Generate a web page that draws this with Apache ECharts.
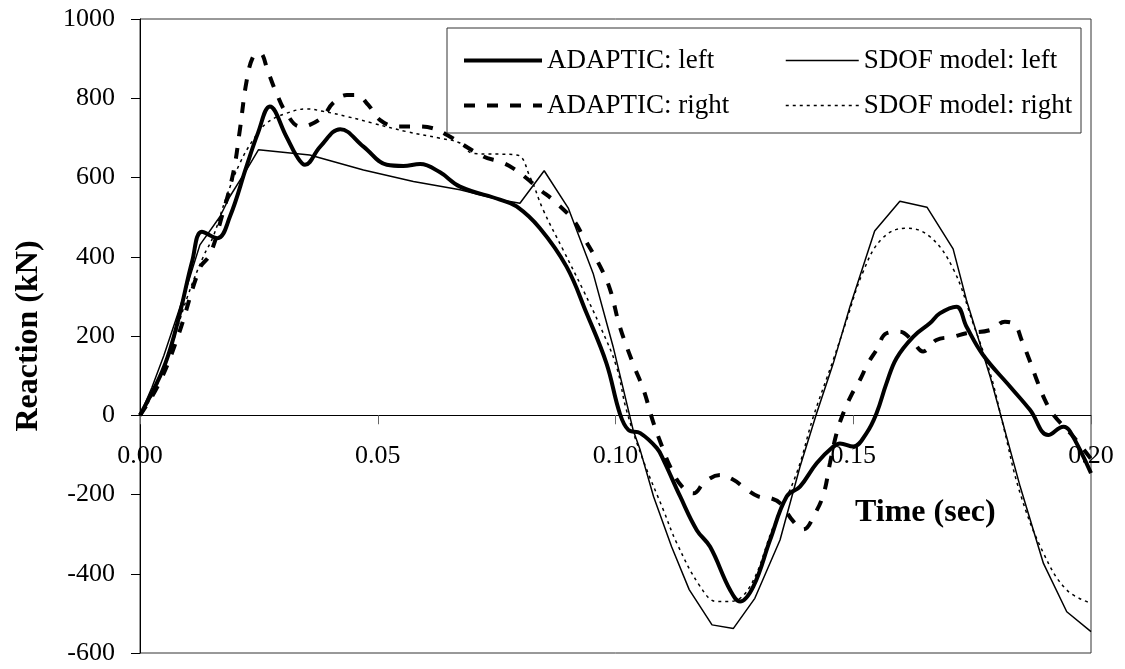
<!DOCTYPE html>
<html>
<head>
<meta charset="utf-8">
<script src="https://cdn.jsdelivr.net/npm/echarts@6/dist/echarts.min.js"></script>
<style>
	html,body{margin:0;padding:0;background:#fff;}
	#g_canvas{width:1125px;height:669px;}
</style>
</head>
<body>
<div id="g_canvas"></div>
<script>
// time (sec) / reaction (kN)
var adaptic_left_t = [0, 0.0042, 0.0063, 0.0084, 0.011, 0.013, 0.0163, 0.0189, 0.0224, 0.0248, 0.0273, 0.0308, 0.033, 0.0347, 0.0379, 0.0421, 0.047, 0.0519, 0.0554, 0.0589, 0.0631, 0.0673, 0.0757, 0.0792, 0.0841, 0.0897, 0.0939, 0.0981, 0.1009, 0.1027, 0.1052, 0.1087, 0.1101, 0.1136, 0.1171, 0.1199, 0.1241, 0.1262, 0.129, 0.1325, 0.136, 0.1388, 0.1423, 0.1458, 0.1472, 0.15, 0.1528, 0.1549, 0.157, 0.1591, 0.1626, 0.1661, 0.1682, 0.1717, 0.1738, 0.1773, 0.183, 0.1872, 0.191, 0.1942, 0.1956, 0.2];
var adaptic_left_v = [0, 98, 165, 258, 390, 463, 447, 501, 628, 712, 779, 703, 653, 632, 678, 722, 678, 632, 629, 634, 613, 577, 544, 527, 472, 375, 258, 131, 5, -37, -45, -83, -113, -205, -290, -332, -441, -470, -432, -315, -205, -180, -121, -79, -71, -79, -45, 5, 81, 144, 198, 232, 257, 274, 224, 152, 72, 13, -50, -29, -41, -146];

var adaptic_right_t = [0, 0.004, 0.008, 0.0126, 0.0147, 0.0172, 0.0196, 0.021, 0.0224, 0.0238, 0.0252, 0.027, 0.0287, 0.0308, 0.0336, 0.0357, 0.0385, 0.0406, 0.0435, 0.0456, 0.048, 0.0505, 0.054, 0.0582, 0.0617, 0.0645, 0.0722, 0.0757, 0.0785, 0.0813, 0.0841, 0.0869, 0.0911, 0.0932, 0.0968, 0.0989, 0.1009, 0.1038, 0.1059, 0.108, 0.1098, 0.1115, 0.114, 0.1164, 0.1188, 0.122, 0.1248, 0.1272, 0.13, 0.1328, 0.1346, 0.1374, 0.1395, 0.142, 0.1438, 0.1451, 0.1465, 0.1479, 0.1496, 0.1514, 0.1531, 0.1549, 0.157, 0.1598, 0.1623, 0.1647, 0.1675, 0.171, 0.1738, 0.1788, 0.1819, 0.184, 0.1854, 0.1872, 0.1886, 0.1903, 0.1921, 0.196, 0.2];
var adaptic_right_v = [0, 80, 200, 372, 405, 501, 611, 720, 842, 905, 914, 864, 813, 762, 729, 733, 754, 788, 808, 808, 783, 745, 729, 729, 724, 708, 653, 640, 623, 598, 569, 543, 493, 451, 375, 316, 224, 127, 64, -20, -79, -130, -180, -197, -168, -151, -163, -184, -205, -210, -222, -268, -288, -247, -197, -121, -45, 5, 51, 89, 131, 165, 207, 211, 190, 161, 190, 198, 207, 215, 236, 228, 190, 135, 89, 39, 1, -50, -110];

var sdof_left_t = [0, 0.0025, 0.005, 0.0075, 0.01, 0.0126, 0.0168, 0.0189, 0.0224, 0.0249, 0.0357, 0.047, 0.0575, 0.0673, 0.0757, 0.0799, 0.085, 0.0901, 0.0953, 0.0995, 0.1037, 0.1052, 0.108, 0.1118, 0.1155, 0.1203, 0.1248, 0.1293, 0.1346, 0.1388, 0.1423, 0.1458, 0.1493, 0.1545, 0.1598, 0.1655, 0.171, 0.1738, 0.1788, 0.1809, 0.1851, 0.19, 0.1949, 0.2];
var sdof_left_v = [0, 70, 150, 240, 330, 430, 501, 552, 619, 670, 657, 619, 590, 569, 544, 535, 617, 522, 358, 173, -37, -88, -205, -332, -440, -529, -538, -462, -315, -130, 5, 131, 274, 465, 540, 525, 420, 291, 97, 5, -180, -374, -496, -546];

var sdof_right_t = [0, 0.003, 0.0065, 0.01, 0.0133, 0.0154, 0.0182, 0.021, 0.0238, 0.0266, 0.0308, 0.0351, 0.0385, 0.0435, 0.049, 0.056, 0.0631, 0.0673, 0.07, 0.0792, 0.082, 0.0848, 0.089, 0.0932, 0.0968, 0.1002, 0.1023, 0.1058, 0.1101, 0.1129, 0.1178, 0.1213, 0.1241, 0.1283, 0.1332, 0.1381, 0.1416, 0.1458, 0.1486, 0.152, 0.156, 0.161, 0.166, 0.171, 0.1752, 0.1788, 0.1816, 0.1851, 0.19, 0.1949, 0.2];
var sdof_right_v = [0, 60, 170, 300, 400, 451, 552, 636, 695, 737, 762, 773, 767, 754, 737, 716, 699, 687, 661, 657, 602, 518, 417, 316, 224, 123, 13, -113, -240, -323, -432, -470, -470, -432, -281, -146, -4, 140, 240, 360, 445, 472, 452, 370, 232, 106, -29, -197, -348, -441, -474];

var y_ticks = [-600, -400, -200, 0, 200, 400, 600, 800, 1000];

function pairs(t, v){
	var arr = [];
	for(let i=0;i<t.length;i++){
		arr.push([t[i], v[i]]);
	}
	return arr;
}

var font = '"Liberation Serif", "Times New Roman", serif';
var legend_text = { fontFamily: font, fontSize: 27, color: '#000' };

// plot box
var g_top = 19, g_bottom = 16, g_h = 669 - g_top - g_bottom;
var y_min = y_ticks[0], y_max = y_ticks[y_ticks.length-1];
// move the time axis up onto the zero line
var zero_offset = -(g_h * (0 - y_min) / (y_max - y_min));

option = {
	animation: false,
	backgroundColor: '#fff',
	grid: {
		left: 140,
		right: 34,
		top: g_top,
		bottom: g_bottom,
		outerBoundsMode: 'none',
		containLabel: false,
		show: true,
		borderColor: '#333',
		borderWidth: 1
	},
	legend: [{
		orient: 'vertical',
		left: 457,
		top: 42,
		itemWidth: 78,
		itemHeight: 20,
		itemGap: 18,
		itemStyle: { opacity: 0 },
		textStyle: legend_text,
		data: [
			{ name: 'ADAPTIC: left', lineStyle: { width: 4, type: 'solid', color: '#000' } },
			{ name: 'ADAPTIC: right', lineStyle: { width: 4, type: [11, 12], color: '#000' } }
		]
	}, {
		orient: 'vertical',
		left: 780,
		top: 42,
		itemWidth: 73,
		itemHeight: 20,
		itemGap: 18,
		itemStyle: { opacity: 0 },
		textStyle: legend_text,
		data: [
			{ name: 'SDOF model: left', lineStyle: { width: 1.5, type: 'solid', color: '#000' } },
			{ name: 'SDOF model: right', lineStyle: { width: 1.5, type: [3, 4], color: '#000' } }
		]
	}],
	graphic: [{
		type: 'rect',
		shape: { x: 447, y: 28, width: 634, height: 105 },
		style: { fill: 'none', stroke: '#333', lineWidth: 1 },
		z: 10
	}, {
		type: 'text',
		left: 855,
		top: 497,
		style: {
			text: 'Time (sec)',
			font: 'bold 32px ' + font,
			fill: '#000'
		}
	}],
	xAxis: {
		type: 'value',
		min: 0,
		max: 0.2,
		interval: 0.05,
		offset: zero_offset,
		splitLine: { show: false },
		axisLine: { onZero: false, lineStyle: { color: '#000', width: 1 } },
		axisTick: { show: true, length: 9, lineStyle: { color: '#666' } },
		axisLabel: {
			margin: 28,
			fontFamily: font,
			fontSize: 26,
			color: '#000',
			formatter: function(val){ return val.toFixed(2); }
		}
	},
	yAxis: {
		type: 'value',
		min: y_min,
		max: y_max,
		interval: 200,
		name: 'Reaction (kN)',
		nameLocation: 'middle',
		nameGap: 95,
		nameTextStyle: { fontFamily: font, fontSize: 32, fontWeight: 'bold', color: '#000' },
		splitLine: { show: false },
		axisLine: { show: true, onZero: false, lineStyle: { color: '#000', width: 1 } },
		axisTick: { show: true, length: 9, lineStyle: { color: '#000' } },
		axisLabel: {
			margin: 25,
			fontFamily: font,
			fontSize: 26,
			color: '#000',
			formatter: function(val){ return String(val); }
		}
	},
	series: [{
		name: 'ADAPTIC: left',
		type: 'line',
		smooth: 0.4,
		symbol: 'none',
		data: pairs(adaptic_left_t, adaptic_left_v),
		lineStyle: { color: '#000', width: 4, type: 'solid' },
		itemStyle: { color: '#000' },
		z: 4
	}, {
		name: 'ADAPTIC: right',
		type: 'line',
		smooth: 0.4,
		symbol: 'none',
		data: pairs(adaptic_right_t, adaptic_right_v),
		lineStyle: { color: '#000', width: 4, type: [11, 12] },
		itemStyle: { color: '#000' },
		z: 3
	}, {
		name: 'SDOF model: left',
		type: 'line',
		smooth: false,
		symbol: 'none',
		data: pairs(sdof_left_t, sdof_left_v),
		lineStyle: { color: '#000', width: 1.5, type: 'solid' },
		itemStyle: { color: '#000' },
		z: 2
	}, {
		name: 'SDOF model: right',
		type: 'line',
		smooth: 0.4,
		symbol: 'none',
		data: pairs(sdof_right_t, sdof_right_v),
		lineStyle: { color: '#000', width: 1.5, type: [3, 4] },
		itemStyle: { color: '#000' },
		z: 2
	}]
};
var myChart = echarts.init(document.getElementById('g_canvas'));
myChart.setOption(option);
</script>
</body>
</html>
